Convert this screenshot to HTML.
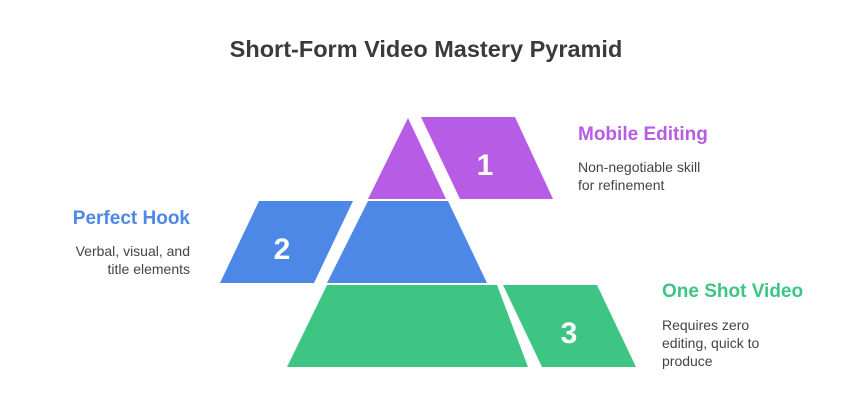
<!DOCTYPE html>
<html><head><meta charset="utf-8"><style>
body{margin:0;background:#fff;}
svg{display:block;font-family:"Liberation Sans",sans-serif;}
</style></head><body>
<svg width="852" height="417" viewBox="0 0 852 417">
<text x="426" y="57" text-anchor="middle" font-size="23.5" font-weight="bold" fill="#3a3a3a">Short-Form Video Mastery Pyramid</text>
<polygon points="408,118 446,199 368,199" fill="#b75ce4"/>
<polygon points="421,117 515,117 553,199 460,199" fill="#b75ce4"/>
<polygon points="368,201 448,201 487,283 327,283" fill="#4e88e6"/>
<polygon points="259,201 353,201 314,283 220,283" fill="#4e88e6"/>
<polygon points="327,285 497,285 528,367 287,367" fill="#3ec584"/>
<polygon points="503,285 597,285 636,367 542,367" fill="#3ec584"/>
<text x="485" y="175" text-anchor="middle" font-size="30" font-weight="bold" fill="#fff">1</text>
<text x="282" y="259" text-anchor="middle" font-size="30" font-weight="bold" fill="#fff">2</text>
<text x="569" y="343" text-anchor="middle" font-size="30" font-weight="bold" fill="#fff">3</text>
<text x="578" y="140" font-size="19" font-weight="bold" fill="#b75ce4">Mobile Editing</text>
<text x="578" y="172" font-size="14" fill="#444">Non-negotiable skill</text>
<text x="578" y="190" font-size="14" fill="#444">for refinement</text>
<text x="190" y="224" text-anchor="end" font-size="19" font-weight="bold" fill="#4e88e6">Perfect Hook</text>
<text x="190" y="256" text-anchor="end" font-size="14" fill="#444">Verbal, visual, and</text>
<text x="190" y="274" text-anchor="end" font-size="14" fill="#444">title elements</text>
<text x="662" y="297" font-size="19" font-weight="bold" fill="#3ec584">One Shot Video</text>
<text x="662" y="330" font-size="14" fill="#444">Requires zero</text>
<text x="662" y="348" font-size="14" fill="#444">editing, quick to</text>
<text x="662" y="366" font-size="14" fill="#444">produce</text>
</svg>
</body></html>
